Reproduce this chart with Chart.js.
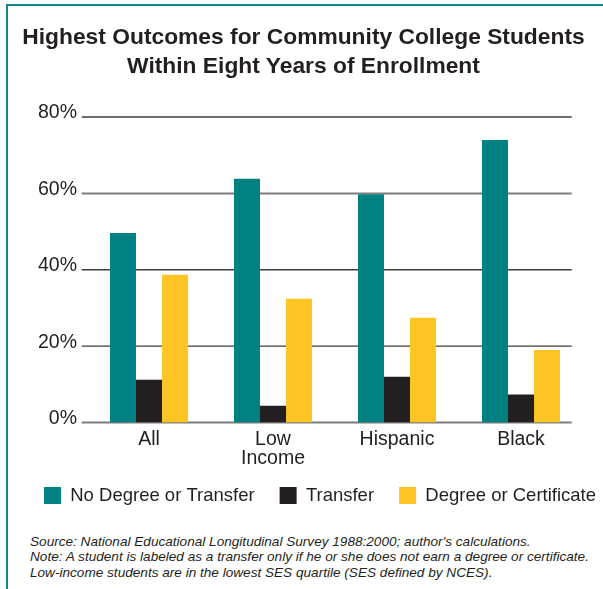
<!DOCTYPE html>
<html>
<head>
<meta charset="utf-8">
<script src="https://cdn.jsdelivr.net/npm/chart.js@4.4.0/dist/chart.umd.min.js"></script>
<style>
    html, body { margin: 0; padding: 0; background: #fff; overflow: hidden; }
    body { width: 603px; height: 589px; position: relative; font-family: "Liberation Sans", Arial, sans-serif; color: #231f20; }
    #frame { position: absolute; left: 6px; top: 4px; width: 597px; height: 585px; border-top: 2px solid #13878c; border-left: 2px solid #13878c; }
    #title { position: absolute; left: -2px; top: 16px; width: 595px; text-align: center; font-weight: bold; font-size: 22.8px; line-height: 28.5px; }
    #chartBox { position: absolute; left: 0; top: 0; width: 624px; height: 517px; }
    #notes { position: absolute; left: 22px; top: 528px; font-style: italic; font-size: 13.6px; line-height: 15.3px; color: #231f20; white-space: nowrap; }
</style>
</head>
<body>
<div id="frame">
    <div id="chartBox"><canvas id="chart"></canvas></div>
    <div id="title">Highest Outcomes for Community College Students<br>Within Eight Years of Enrollment</div>
    <div id="notes">
        Source: National Educational Longitudinal Survey 1988:2000; author's calculations.<br>
        Note: A student is labeled as a transfer only if he or she does not earn a degree or certificate.<br>
        Low-income students are in the lowest SES quartile (SES defined by NCES).
    </div>
</div>
<script>
const categories = ['All', ['Low', 'Income'], 'Hispanic', 'Black'];
const seriesNames = ['No Degree or Transfer', 'Transfer', 'Degree or Certificate'];
const noDegreeOrTransfer = [49.6, 63.8, 59.8, 74.0];
const transfer = [11.2, 4.4, 12.0, 7.3];
const degreeOrCertificate = [38.7, 32.4, 27.4, 19.0];
const yTickValues = [0, 20, 40, 60, 80];

const TEAL = '#008282';
const BLACK = '#231f20';
const YELLOW = '#fdc423';
const FONT = '"Liberation Sans", Arial, sans-serif';

// horizontal rules drawn behind the bars, a bit narrower than the category band
const ruleLines = {
    id: 'ruleLines',
    beforeDatasetsDraw(chart) {
        const y = chart.scales.y;
        const ctx = chart.ctx;
        const x0 = chart.chartArea.left - 5.3;
        const x1 = chart.chartArea.right - 11.3;
        ctx.save();
        yTickValues.forEach(v => {
            const py = y.getPixelForValue(v);
            const grey = (v === 0 || v === 60);
            ctx.strokeStyle = grey ? '#7d7d7d' : '#3d3d3d';
            ctx.lineWidth = grey ? 2 : 1.4;
            ctx.beginPath();
            ctx.moveTo(x0, py);
            ctx.lineTo(x1, py);
            ctx.stroke();
        });
        ctx.restore();
    }
};

// legend sits a little closer to the axis labels than its padding allows
const legendNudge = {
    id: 'legendNudge',
    afterLayout(chart) {
        const lg = chart.legend;
        if (!lg) return;
        lg.top -= 8.25;
        lg.bottom -= 8.25;
    }
};

new Chart(document.getElementById('chart'), {
    type: 'bar',
    data: {
        labels: categories,
        datasets: [
            { label: seriesNames[0], data: noDegreeOrTransfer, backgroundColor: TEAL },
            { label: seriesNames[1], data: transfer, backgroundColor: BLACK },
            { label: seriesNames[2], data: degreeOrCertificate, backgroundColor: YELLOW }
        ]
    },
    options: {
        responsive: true,
        maintainAspectRatio: false,
        animation: false,
        datasets: {
            bar: { categoryPercentage: 0.63, barPercentage: 1.0 }
        },
        layout: {
            padding: { top: 111, left: 0, right: 0, bottom: 0 }
        },
        plugins: {
            title: { display: false },
            tooltip: { enabled: false },
            legend: {
                position: 'bottom',
                labels: {
                    boxWidth: 17,
                    boxHeight: 17,
                    padding: 25,
                    color: BLACK,
                    font: { family: FONT, size: 18.5 }
                }
            }
        },
        scales: {
            x: {
                grid: { display: false, drawTicks: false },
                border: { display: false },
                ticks: {
                    color: BLACK,
                    padding: 7,
                    maxRotation: 0,
                    font: { family: FONT, size: 19.5, lineHeight: 1.0 }
                },
                afterFit(scale) { scale.height = 47; }
            },
            y: {
                min: 0,
                max: 80,
                grid: { display: false, drawTicks: false },
                border: { display: false },
                afterBuildTicks(scale) { scale.ticks = yTickValues.map(v => ({ value: v })); },
                afterFit(scale) { scale.width = 79; },
                ticks: {
                    color: BLACK,
                    padding: 10,
                    labelOffset: -4,
                    font: { family: FONT, size: 19.5 },
                    callback: v => v + '%'
                }
            },
            yRight: {
                type: 'linear',
                position: 'right',
                grid: { display: false, drawTicks: false },
                border: { display: false },
                ticks: { display: false },
                afterFit(scale) { scale.width = 49; }
            }
        }
    },
    plugins: [ruleLines, legendNudge]
});
</script>
</body>
</html>
